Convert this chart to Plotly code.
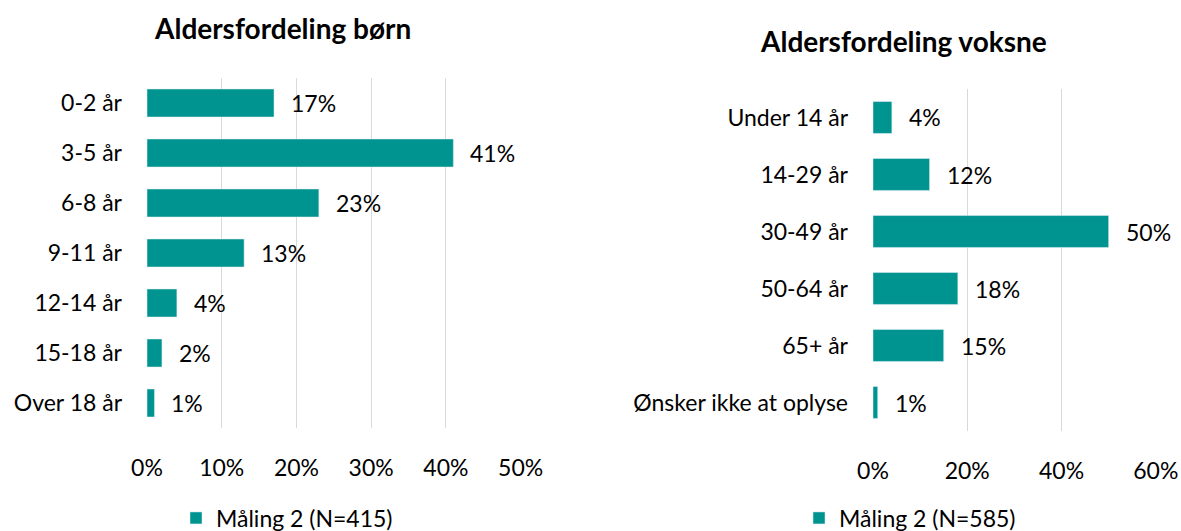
import plotly.graph_objects as go

# data
born_labels = ["0-2 år", "3-5 år", "6-8 år", "9-11 år", "12-14 år", "15-18 år", "Over 18 år"]
born_values = [17, 41, 23, 13, 4, 2, 1]
voksne_labels = ["Under 14 år", "14-29 år", "30-49 år", "50-64 år", "65+ år", "Ønsker ikke at oplyse"]
voksne_values = [4, 12, 50, 18, 15, 1]
born_ticks = [0, 10, 20, 30, 40, 50]
voksne_ticks = [0, 20, 40, 60]

TEAL = "#009491"
FONT = "Lato"
GRID = "#d9d9d9"
FS = 23

W, H = 1181, 531


def px_x(p):
    return p / W


def px_y(p):
    return 1 - p / H


fig = go.Figure()

fig.add_trace(go.Bar(
    x=born_values, y=born_labels, orientation="h",
    marker=dict(color=TEAL), name="Måling 2 (N=415)",
    xaxis="x", yaxis="y", legend="legend",
))
fig.add_trace(go.Bar(
    x=voksne_values, y=voksne_labels, orientation="h",
    marker=dict(color=TEAL), name="Måling 2 (N=585)",
    xaxis="x2", yaxis="y2", legend="legend2",
))

label_font = dict(size=FS, color="#000000", family=FONT)

annotations = []
for v, lab in zip(born_values, born_labels):
    annotations.append(dict(x=v, y=lab, xref="x", yref="y", text=f"{v}%",
                            showarrow=False, xanchor="left", xshift=15,
                            font=label_font))
for v, lab in zip(voksne_values, voksne_labels):
    annotations.append(dict(x=v, y=lab, xref="x2", yref="y2", text=f"{v}%",
                            showarrow=False, xanchor="left", xshift=15,
                            font=label_font))

annotations.append(dict(x=px_x(282), y=px_y(28), xref="paper", yref="paper",
                        text="<b>Aldersfordeling børn</b>", showarrow=False,
                        xanchor="center", yanchor="middle",
                        font=dict(size=28, color="#000000", family=FONT)))
annotations.append(dict(x=px_x(903), y=px_y(41), xref="paper", yref="paper",
                        text="<b>Aldersfordeling voksne</b>", showarrow=False,
                        xanchor="center", yanchor="middle",
                        font=dict(size=28, color="#000000", family=FONT)))

fig.update_layout(
    width=W, height=H,
    margin=dict(l=0, r=0, t=0, b=0, autoexpand=False),
    paper_bgcolor="white", plot_bgcolor="white",
    bargap=0.44,
    font=dict(family=FONT, color="#000000"),
    annotations=annotations,
    xaxis=dict(domain=[px_x(147), px_x(521)], range=[0, 50.05],
               tickvals=born_ticks, ticktext=[f"{t}%" for t in born_ticks],
               showgrid=True, gridcolor=GRID, gridwidth=1,
               zeroline=False, showline=False, automargin=False,
               tickfont=label_font, ticklabelstandoff=24, anchor="y"),
    yaxis=dict(domain=[px_y(428), px_y(78)], categoryorder="array",
               categoryarray=born_labels, autorange="reversed",
               showgrid=False, zeroline=False, showline=False, automargin=False,
               tickfont=label_font, ticklabelstandoff=24, anchor="x"),
    xaxis2=dict(domain=[px_x(873), px_x(1156)], range=[0, 60.05],
                tickvals=voksne_ticks, ticktext=[f"{t}%" for t in voksne_ticks],
                showgrid=True, gridcolor=GRID, gridwidth=1,
                zeroline=False, showline=False, automargin=False,
                tickfont=label_font, ticklabelstandoff=24, anchor="y2"),
    yaxis2=dict(domain=[px_y(431), px_y(89)], categoryorder="array",
                categoryarray=voksne_labels, autorange="reversed",
                showgrid=False, zeroline=False, showline=False, automargin=False,
                tickfont=label_font, ticklabelstandoff=24, anchor="x2"),
    legend=dict(x=px_x(287), y=px_y(518), xanchor="center", yanchor="middle",
                orientation="h", font=label_font, bgcolor="rgba(0,0,0,0)"),
    legend2=dict(x=px_x(910), y=px_y(518), xanchor="center", yanchor="middle",
                 orientation="h", font=label_font, bgcolor="rgba(0,0,0,0)"),
    showlegend=True,
)

fig.write_html("out.html", config={"displayModeBar": False},
               post_script="document.body.style.margin='0';document.body.style.overflow='hidden';")
